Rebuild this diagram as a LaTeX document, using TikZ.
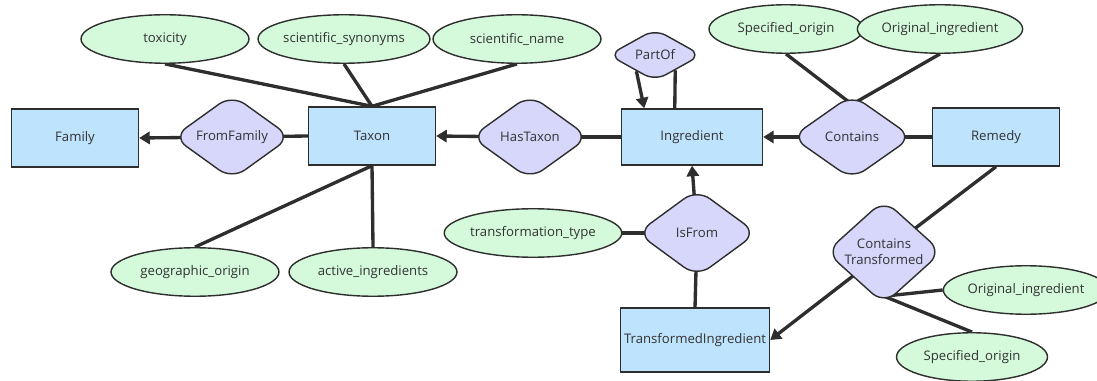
\documentclass[tikz,border=0pt]{standalone}
\usepackage{fontspec}
\setmainfont{Open Sans}
\usetikzlibrary{shapes.geometric,arrows.meta,backgrounds}
\definecolor{entfill}{HTML}{BEE3FC}
\definecolor{relfill}{HTML}{D6D7FB}
\definecolor{attfill}{HTML}{D4FADB}
\definecolor{edgec}{HTML}{2E2E2E}
\definecolor{txtc}{HTML}{333333}

\begin{document}
\begin{tikzpicture}[x=0.02cm,y=-0.02cm,font=\fontsize{7.5}{9}\selectfont,text=txtc,
  entity/.style={draw=edgec,line width=0.8pt,fill=entfill,inner sep=0pt,minimum width=2.54cm,minimum height=1.16cm},
  rel/.style={diamond,draw=edgec,line width=0.8pt,fill=relfill,rounded corners=9pt,inner sep=0pt,minimum width=2.36cm,minimum height=1.7cm,align=center},
  attr/.style={ellipse,draw=edgec,line width=0.8pt,fill=attfill,inner sep=0pt,minimum width=3.36cm,minimum height=0.97cm},
  link/.style={draw=edgec,line width=1.9pt},
  arr/.style={link,-{Triangle[length=6pt,width=7pt]}}]
\useasboundingbox (0,0) rectangle (1097,381);

% entities
\node[entity] (family) at (75,138) {Family};
\node[entity] (taxon) at (372,136) {Taxon};
\node[entity,minimum width=2.82cm,minimum height=1.12cm] (ingr) at (692,137) {Ingredient};
\node[entity] (remedy) at (996,137) {Remedy};
\node[entity,minimum width=2.98cm,minimum height=1.28cm] (trans) at (695,340) {TransformedIngredient};

% relationships
\node[rel] (fromfam) at (232,137) {FromFamily};
\node[rel] (hastaxon) at (530,137) {HasTaxon};
\node[rel,minimum width=1.86cm,minimum height=1.04cm,rounded corners=7pt] (partof) at (655,55) {PartOf};
\node[rel,minimum width=2.42cm] (contains) at (852,137) {Contains};
\node[rel,minimum width=2.4cm,minimum height=1.76cm] (isfrom) at (697,233) {IsFrom};
\node[rel,minimum width=2.32cm,minimum height=1.66cm] (ctrans) at (884,252) {Contains\\Transformed};

% attributes
\node[attr] (tox) at (165,39) {toxicity};
\node[attr] (synon) at (344,39) {scientific\_synonyms};
\node[attr] (sciname) at (517,39) {scientific\_name};
\node[attr,minimum width=3.08cm] (specorig) at (786,29) {Specified\_origin};
\node[attr,minimum width=3.06cm] (origingr) at (940,29) {Original\_ingredient};
\node[attr] (geo) at (195,272) {geographic\_origin};
\node[attr] (active) at (373,272) {active\_ingredients};
\node[attr,minimum width=3.46cm] (ttype) at (533,233) {transformation\_type};
\node[attr,minimum width=3.04cm] (origingrb) at (1026,290) {Original\_ingredient};
\node[attr,minimum width=3.02cm] (specorigb) at (972,357) {Specified\_origin};

% connectors, behind the shapes
\begin{scope}[on background layer]
\draw[link] (tox.south) -- (taxon.north);
\draw[link] (synon.south) -- (taxon.north);
\draw[link] (sciname.south) -- (taxon.north);
\draw[link] (taxon.south) -- (geo.north);
\draw[link] (taxon.south) -- (active.north);
\draw[arr] (fromfam.center) -- (family.east);
\draw[link] (taxon.west) -- (fromfam.center);
\draw[arr] (hastaxon.center) -- (taxon.east);
\draw[link] (ingr.west) -- (hastaxon.center);
\draw[arr] (partof.221) -- (ingr.149);
\draw[link] (ingr.121) -- (partof.-37);
\draw[arr] (contains.center) -- (ingr.east);
\draw[link] (remedy.west) -- (contains.center);
\draw[link] (specorig.south) -- ([yshift=-6pt]contains.north);
\draw[link] (origingr.south) -- ([yshift=-6pt]contains.north);
\draw[arr] (isfrom.center) -- (ingr.south);
\draw[link] (ttype.east) -- (isfrom.center);
\draw[link] (isfrom.center) -- (trans.north);
\draw[link] (remedy.south) -- (ctrans.center);
\draw[arr] (ctrans.center) -- (trans.east);
\draw[link] ([yshift=5pt]ctrans.south) -- (origingrb.west);
\draw[link] ([yshift=5pt]ctrans.south) -- (specorigb.north);
\end{scope}
\end{tikzpicture}
\end{document}
